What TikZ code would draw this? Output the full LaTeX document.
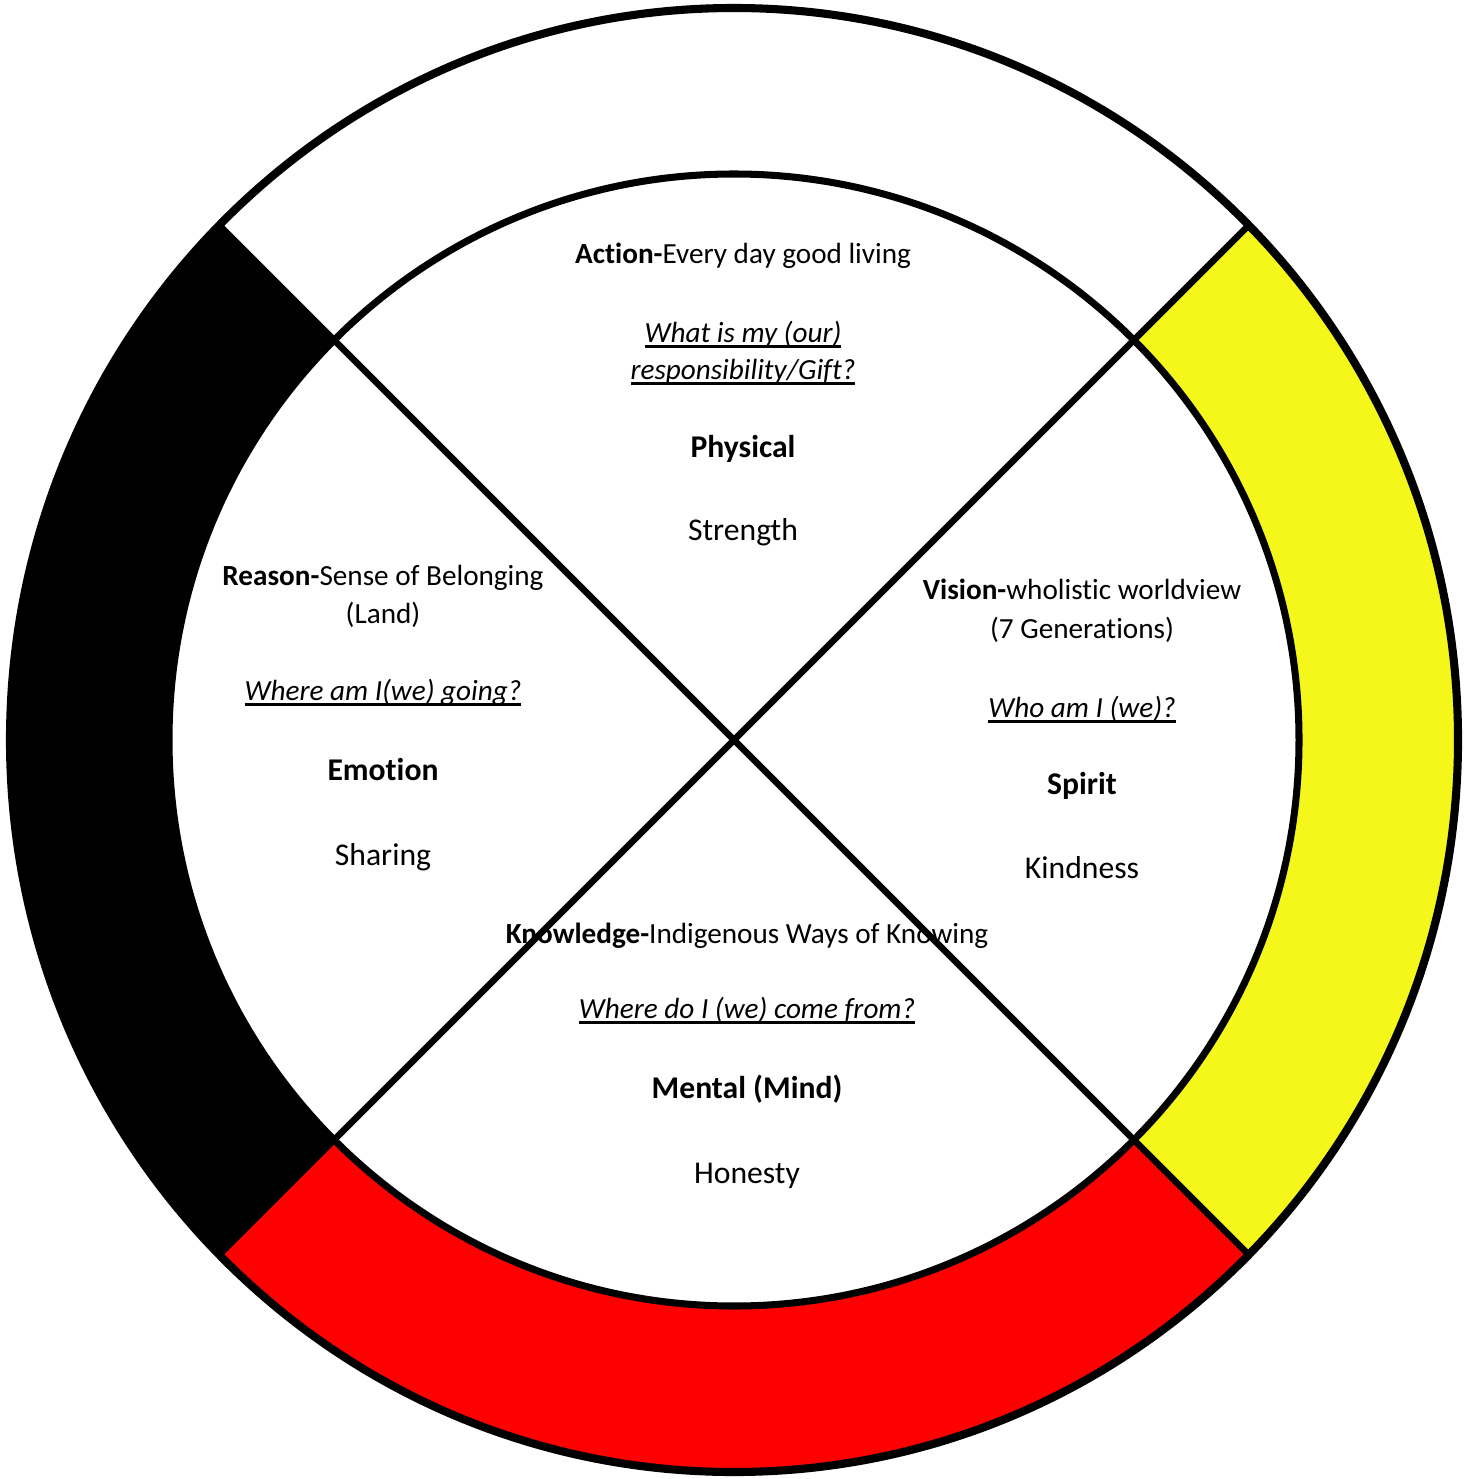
\documentclass[tikz,border=0pt]{standalone}
\usepackage{fontspec}
\setmainfont{Carlito}[Ligatures=NoCommon]
\definecolor{wheelyellow}{RGB}{244,247,25}
\newsavebox\qbox
\newcommand{\ulq}[1]{\sbox\qbox{#1}\rlap{\rule[-1.6pt]{\wd\qbox}{0.75pt}}\usebox\qbox}

\begin{document}
\begin{tikzpicture}[
    x=0.01cm, y=-0.01cm,
    smalltxt/.style={font=\fontsize{8.3}{10}\selectfont, anchor=base, inner sep=0pt},
    bigtxt/.style={font=\fontsize{9}{11}\selectfont, anchor=base, inner sep=0pt},
    divider/.style={line width=1.9pt}
]
\useasboundingbox[fill=white] (0,0) rectangle (1471,1479);

\coordinate (C) at (734,740);

% Coloured quarters of the outer ring
\foreach \col/\dx/\dy in {wheelyellow/1/0, red/0/1, black/-1/0} {
  \begin{scope}
    \clip (C) -- +({2000*(\dx-\dy)},{2000*(\dy+\dx)}) -- +({2000*(\dx+\dy)},{2000*(\dy-\dx)}) -- cycle;
    \fill[\col] (C) ellipse [x radius=724, y radius=732];
  \end{scope}
}

% Inner circle
\fill[white] (C) ellipse [x radius=565, y radius=566];

% Physical (top)
\node[smalltxt] (act) at (743,263) {\textbf{Action-}Every day good living};
\node[smalltxt] (gifta) at (743,342) {\ulq{\itshape What is my (our)}};
\node[smalltxt] (giftb) at (743,379) {\ulq{\itshape responsibility/Gift?}};
\node[bigtxt] (phys) at (743,457) {\textbf{Physical}};
\node[bigtxt] (str) at (743,540) {Strength};

% Emotion (left)
\node[smalltxt] (rsn) at (383,585) {\textbf{Reason-}Sense of Belonging};
\node[smalltxt] (land) at (383,623) {(Land)};
\node[smalltxt] (goq) at (383,700) {\ulq{\itshape Where am I(we) going?}};
\node[bigtxt] (emo) at (383,780) {\textbf{Emotion}};
\node[bigtxt] (shr) at (383,865) {Sharing};

% Spirit (right)
\node[smalltxt] (vis) at (1082,599) {\textbf{Vision-}wholistic worldview};
\node[smalltxt] (gen) at (1082,638) {(7 Generations)};
\node[smalltxt] (whoq) at (1082,717) {\ulq{\itshape Who am I (we)?}};
\node[bigtxt] (spi) at (1082,794) {\textbf{Spirit}};
\node[bigtxt] (kind) at (1082,878) {Kindness};

% Mental (bottom)
\node[smalltxt] (know) at (747,943) {\textbf{Knowledge-}Indigenous Ways of Knowing};
\node[smalltxt] (fromq) at (747,1018) {\ulq{\itshape Where do I (we) come from?}};
\node[bigtxt] (ment) at (747,1098) {\textbf{Mental (Mind)}};
\node[bigtxt] (hon) at (747,1183) {Honesty};

% Dividing lines
\coordinate (nw) at (219,225);
\coordinate (ne) at (1249,225);
\coordinate (sw) at (219,1255);
\coordinate (se) at (1249,1255);
\draw[divider] (nw) -- (se);
\draw[divider] (ne) -- (sw);

% Circles
\draw[line width=2pt] (C) ellipse [x radius=565, y radius=566];
\draw[line width=2.3pt] (C) ellipse [x radius=724, y radius=732];

\end{tikzpicture}
\end{document}
